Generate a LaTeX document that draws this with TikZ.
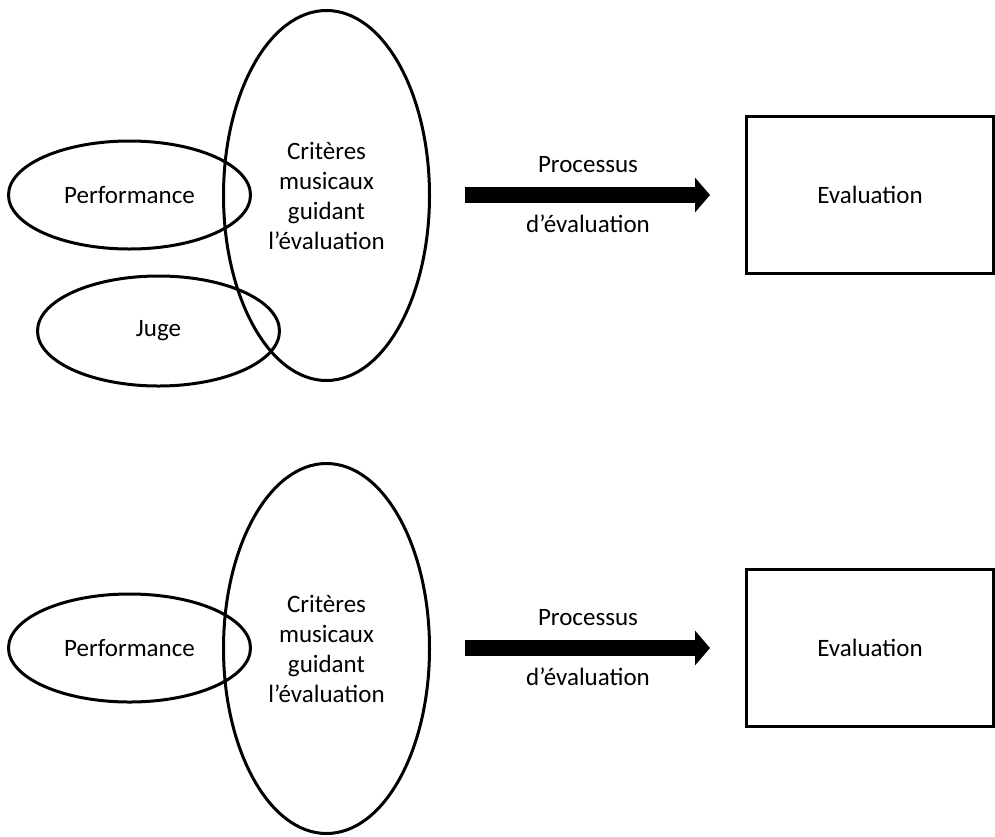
\documentclass[tikz,border=0pt]{standalone}
\usepackage{fontspec}
\setmainfont{Carlito}
\usepackage{tikz}
\usetikzlibrary{arrows.meta, shapes.geometric}
\tikzstyle{member}=[draw, ellipse, line width=3pt, inner sep=0pt, minimum width=242pt, minimum height=108pt]
\tikzstyle{criteria}=[draw, ellipse, line width=3pt, inner sep=0pt, minimum width=206pt, minimum height=370pt, align=center]
\tikzstyle{result}=[draw, rectangle, line width=3.5pt, minimum width=247pt, minimum height=157pt]
\tikzstyle{process}=[line width=16pt, -{Triangle[length=15pt, width=34pt]}]

\begin{document}
\begin{tikzpicture}[x=1pt, y=-1pt, font=\fontsize{25}{30}\selectfont]
    \useasboundingbox (0,0) rectangle (995,836);
    \foreach \dy/\p in {0/a,453/b} {
        \node[criteria] (crit\p) at (326.5,195.5+\dy) {Critères\\musicaux\\guidant\\l’évaluation};
        \node[member] (perf\p) at (129.5,195+\dy) {Performance};
        \coordinate (from\p) at (465,195+\dy); \coordinate (to\p) at (710,195+\dy);
        \draw[process] (from\p) -- (to\p);
        \node[anchor=base] (procup\p) at (588,172+\dy) {Processus};
        \node[anchor=base] (proclow\p) at (588,232+\dy) {d’évaluation};
        \node[result] (eval\p) at (870,195+\dy) {Evaluation};
    }
    \node[member, minimum height=110pt] (juge) at (158.5,331) {Juge};
\end{tikzpicture}
\end{document}
